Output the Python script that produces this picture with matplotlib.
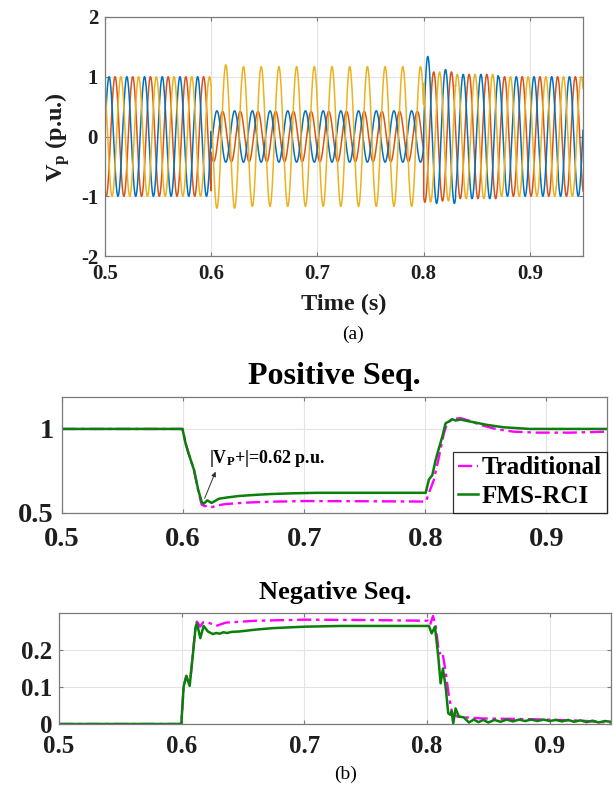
import numpy as np
import matplotlib
matplotlib.use("Agg")
import matplotlib.pyplot as plt

plt.rcParams["font.family"] = ["Liberation Serif", "DejaVu Serif"]
plt.rcParams["font.weight"] = "bold"
plt.rcParams["mathtext.fontset"] = "custom"
plt.rcParams["mathtext.rm"] = "Liberation Serif:bold"
plt.rcParams["mathtext.it"] = "Liberation Serif:bold"
plt.rcParams["mathtext.bf"] = "Liberation Serif:bold"

# ---------------- (a) three-phase PCC voltages ----------------
FREQ_HZ = 60.0
SEG_START = [0.5, 0.6, 0.628, 0.8, 0.8065, 0.83, 0.87]      # segment start times (s)
AMP_A = [1.0, 0.43, 0.43, 1.34, 1.12, 1.04, 1.0]            # phase a (blue) amplitude
AMP_B = [1.0, 0.42, 0.42, 1.10, 1.08, 1.04, 1.0]            # phase b (red) amplitude
AMP_C = [1.0, 1.20, 1.17, 1.10, 1.08, 1.04, 1.0]            # phase c (yellow) amplitude
PH_A = [6, -26, -26, 6, 6, 6, 6]                            # phase angles (deg)
PH_B = [-114, 219, 219, -114, -114, -114, -114]
PH_C = [126, 154, 154, 126, 126, 126, 126]

# ---------------- (b) sequence magnitudes ----------------
V_PLUS_FMS = 0.62

POS_T_TRAD = [0.5, 0.5995, 0.602, 0.6045, 0.6063, 0.609, 0.6125, 0.6153, 0.618, 0.621,
              0.624, 0.628, 0.635, 0.65, 0.67, 0.70, 0.75, 0.8005, 0.803, 0.807, 0.811,
              0.8153, 0.818, 0.823, 0.829, 0.836, 0.8455, 0.859, 0.8727, 0.892, 0.92, 0.95]
POS_V_TRAD = [1.0, 1.0, 0.915, 0.855, 0.815, 0.756, 0.63, 0.55, 0.54, 0.545,
              0.535, 0.545, 0.553, 0.561, 0.567, 0.571, 0.57, 0.568, 0.62, 0.696, 0.825,
              0.974, 1.034, 1.06, 1.064, 1.05, 1.024, 0.998, 0.984, 0.978, 0.978, 0.984]

POS_T_FMS = [0.5, 0.5995, 0.602, 0.6045, 0.6063, 0.609, 0.6125, 0.6153, 0.617, 0.620,
             0.6235, 0.6265, 0.6295, 0.637, 0.646, 0.66, 0.673, 0.69, 0.71, 0.8003,
             0.803, 0.8057, 0.8085, 0.8112, 0.814, 0.8167, 0.8194, 0.822, 0.825, 0.829,
             0.837, 0.851, 0.8645, 0.886, 0.95]
POS_V_FMS = [1.0, 1.0, 0.915, 0.855, 0.815, 0.756, 0.637, 0.567, 0.555, 0.575,
             0.56, 0.572, 0.585, 0.593, 0.601, 0.608, 0.613, 0.617, V_PLUS_FMS, V_PLUS_FMS,
             0.70, 0.724, 0.815, 0.885, 0.954, 1.034, 1.044, 1.058, 1.05, 1.056,
             1.044, 1.024, 1.01, 1.0, 1.0]

NEG_T_TRAD = [0.5, 0.5997, 0.6016, 0.6038, 0.6065, 0.6087, 0.6114, 0.6125, 0.615, 0.6175,
              0.622, 0.628, 0.636, 0.66, 0.70, 0.75, 0.8008, 0.8025, 0.8049, 0.8072,
              0.8098, 0.8125, 0.8152, 0.8179, 0.8206, 0.8247, 0.8314, 0.845, 0.8856,
              0.926, 0.948, 0.95]
NEG_V_TRAD = [0.0, 0.0, 0.101, 0.13, 0.103, 0.175, 0.268, 0.277, 0.263, 0.275,
              0.274, 0.265, 0.274, 0.279, 0.282, 0.281, 0.279, 0.268, 0.292, 0.263,
              0.19, 0.195, 0.141, 0.074, 0.029, 0.02, 0.018, 0.015, 0.013,
              0.009, 0.004, 0.004]

NEG_T_FMS = [0.5, 0.5997, 0.6016, 0.6038, 0.6065, 0.6087, 0.6114, 0.6125, 0.6152, 0.6179,
             0.6214, 0.6255, 0.628, 0.631, 0.634, 0.637, 0.641, 0.647, 0.66, 0.674,
             0.70, 0.73, 0.8016, 0.8038, 0.8065, 0.8092, 0.8111, 0.813, 0.8152, 0.8173,
             0.819, 0.820, 0.8214, 0.8233, 0.826, 0.83, 0.8342, 0.838, 0.842, 0.846,
             0.85, 0.855, 0.86, 0.865, 0.87, 0.875, 0.88, 0.885, 0.89, 0.895,
             0.90, 0.905, 0.91, 0.915, 0.92, 0.925, 0.93, 0.935, 0.94, 0.945, 0.95]
NEG_V_FMS = [0.0, 0.0, 0.101, 0.13, 0.103, 0.173, 0.263, 0.272, 0.232, 0.265,
             0.25, 0.243, 0.246, 0.244, 0.248, 0.246, 0.249, 0.25, 0.255, 0.259,
             0.263, 0.265, 0.265, 0.245, 0.263, 0.182, 0.11, 0.15, 0.10, 0.029,
             0.025, 0.035, 0.002, 0.042, 0.02, 0.018, 0.004, 0.012, 0.005, 0.011,
             0.004, 0.011, 0.006, 0.012, 0.007, 0.012, 0.008, 0.012, 0.008, 0.012,
             0.008, 0.011, 0.007, 0.011, 0.006, 0.010, 0.005, 0.009, 0.004, 0.008, 0.006]

X_TICKS = [0.5, 0.6, 0.7, 0.8, 0.9]

C_A, C_B, C_C = "#0072BD", "#D95319", "#EDB120"
C_TRAD, C_FMS = "#FF00FF", "#0A800A"
GRID_C = "#e3e3e3"
SPINE_C = "#7a7a7a"

W, H = 613, 785
fig = plt.figure(figsize=(W / 100, H / 100), dpi=100)


def box(l, t, r, b):
    return [l / W, 1 - b / H, (r - l) / W, (b - t) / H]


def style(ax, fs, xpad, ypad):
    ax.grid(True, color=GRID_C, lw=0.8)
    ax.set_axisbelow(True)
    for s in ax.spines.values():
        s.set_color(SPINE_C)
        s.set_linewidth(0.9)
    ax.tick_params(direction="in", top=True, right=True, length=3,
                   color=SPINE_C, labelsize=fs, labelcolor="#1e1e1e")
    ax.tick_params(axis="x", pad=xpad)
    ax.tick_params(axis="y", pad=ypad)
    for lab in ax.get_xticklabels() + ax.get_yticklabels():
        lab.set_fontweight("bold")


# ---- panel (a)
t = np.linspace(0.5, 0.95, 9001)
seg = np.searchsorted(SEG_START, t, side="right") - 1
wt = 2 * np.pi * FREQ_HZ * t

ax1 = fig.add_axes(box(105, 17, 583, 256))
for amp, ph, col in ((AMP_B, PH_B, C_B), (AMP_A, PH_A, C_A), (AMP_C, PH_C, C_C)):
    a = np.asarray(amp)[seg]
    p = np.deg2rad(np.asarray(ph))[seg]
    ax1.plot(t, a * np.sin(wt + p), color=col, lw=1.1)
ax1.set_xlim(0.5, 0.95)
ax1.set_ylim(-2, 2)
ax1.set_xticks(X_TICKS)
ax1.set_yticks([-2, -1, 0, 1, 2])
ax1.set_xticklabels([f"{v:g}" for v in X_TICKS])
ax1.set_yticklabels(["-2", "-1", "0", "1", "2"])
style(ax1, 15, 6, 5)
fig.text(344 / W, 1 - 304 / H, "Time (s)", ha="center", va="center",
         fontsize=17.5, fontweight="bold", color="#1e1e1e")
fig.text(58 / W, 1 - 137 / H, r"$\mathrm{V_p}$ (p.u.)", ha="center", va="center",
         rotation=90, fontsize=17.5, fontweight="bold", color="#1e1e1e")
fig.text(353 / W, 1 - 334 / H, "(a)", ha="center", va="center",
         fontsize=14, fontweight="normal", color="black")

# ---- panel (b) positive sequence
ax2 = fig.add_axes(box(62, 397, 607, 513))
ax2.plot(POS_T_TRAD, POS_V_TRAD, color=C_TRAD, ls=(0, (6, 2, 1.5, 2)), lw=1.7,
         label="Traditional")
ax2.plot(POS_T_FMS, POS_V_FMS, color=C_FMS, ls="-", lw=1.8, label="FMS-RCI")
ax2.set_xlim(0.5, 0.95)
ax2.set_ylim(0.5, 1.19)
ax2.set_xticks(X_TICKS)
ax2.set_yticks([0.5, 1])
ax2.set_xticklabels([f"{v:g}" for v in X_TICKS])
ax2.set_yticklabels(["0.5", "1"])
style(ax2, 20.5, 10, 6)
fig.text(334 / W, 1 - 384 / H, "Positive Seq.", ha="center", va="baseline",
         fontsize=23, fontweight="bold")
ax2.annotate("", xy=(0.6268, 0.746), xytext=(0.6178, 0.5875),
             arrowprops=dict(arrowstyle="-|>", color="#333333", lw=0.7,
                             mutation_scale=7, shrinkA=0, shrinkB=0))
ax2.text(0.6215, 0.795, rf"|$\mathrm{{V_P}}$+|={V_PLUS_FMS:.2f} p.u.", ha="left",
         va="baseline", fontsize=13, fontweight="bold")
leg = ax2.legend(loc="lower right", bbox_to_anchor=(1.0, 0.0), borderaxespad=0,
                 fontsize=18, frameon=True, fancybox=False, handlelength=0.8,
                 handletextpad=0.15, borderpad=0.2, labelspacing=0.22)
leg.get_frame().set_edgecolor("black")
leg.get_frame().set_linewidth(0.9)
for txt in leg.get_texts():
    txt.set_fontweight("bold")

# ---- panel (b) negative sequence
ax3 = fig.add_axes(box(59, 613, 611, 724))
ax3.plot(NEG_T_TRAD, NEG_V_TRAD, color=C_TRAD, ls=(0, (6, 2, 1.5, 2)), lw=1.7)
ax3.plot(NEG_T_FMS, NEG_V_FMS, color=C_FMS, ls="-", lw=1.8)
ax3.set_xlim(0.5, 0.95)
ax3.set_ylim(0, 0.3)
ax3.set_xticks(X_TICKS)
ax3.set_yticks([0, 0.1, 0.2])
ax3.set_xticklabels([f"{v:g}" for v in X_TICKS])
ax3.set_yticklabels(["0", "0.1", "0.2"])
style(ax3, 18, 8, 5)
fig.text(335 / W, 1 - 599 / H, "Negative Seq.", ha="center", va="baseline",
         fontsize=19, fontweight="bold")
fig.text(346 / W, 1 - 774 / H, "(b)", ha="center", va="center",
         fontsize=14, fontweight="normal", color="black")

fig.savefig("out.png", dpi=100)
